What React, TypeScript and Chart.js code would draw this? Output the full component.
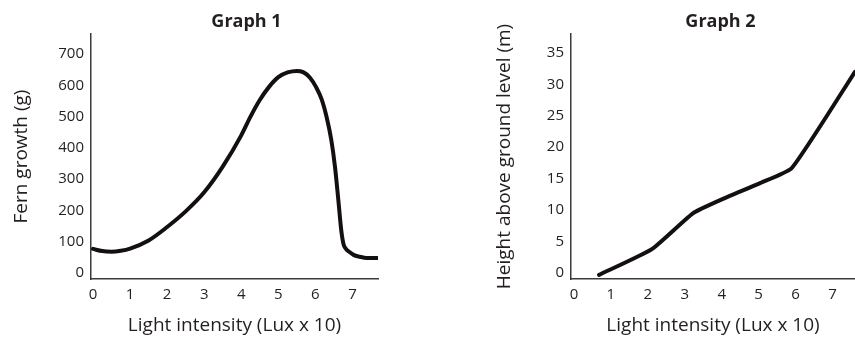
import React, { useEffect, useRef } from "react";
import { Chart, registerables } from "chart.js";

Chart.register(...registerables);

// Graph 1: fern growth vs light intensity
const g1X = [0, 0.25, 0.5, 0.75, 1, 1.5, 2, 2.5, 3, 3.5, 4, 4.25, 4.5, 4.75, 5, 5.25, 5.5, 5.67, 5.85, 6.02, 6.17, 6.3, 6.43, 6.53, 6.62, 6.7, 6.76, 6.82, 6.92, 7.03, 7.2, 7.38, 7.69];
const g1Y = [77, 70, 68, 71, 78, 104, 147, 197, 258, 340, 440, 500, 553, 595, 626, 641, 646, 642, 625, 594, 555, 500, 425, 339, 233, 135, 92, 78, 67, 58, 52, 48, 48];
const g1YTicks = [0, 100, 200, 300, 400, 500, 600, 700];
const g1XTicks = [0, 1, 2, 3, 4, 5, 6, 7];

// Graph 2: height above ground vs light intensity
const g2X = [0.68, 2.11, 3.22, 4.04, 5.04, 5.9, 7.61];
const g2Y = [-0.3, 3.8, 9.5, 11.8, 14.3, 16.7, 32];
const g2YTicks = [0, 5, 10, 15, 20, 25, 30, 35];
const g2XTicks = [0, 1, 2, 3, 4, 5, 6, 7];

const FONT = "'Open Sans', 'Noto Sans', sans-serif";
const AXIS_COLOR = "#3a3a3a";
const TEXT_COLOR = "#231f20";

const titlePlugin = {
  id: "sketchTitle",
  afterDraw(chart: any, _args: any, opts: any) {
    const ctx = chart.ctx;
    ctx.save();
    ctx.font = `bold 18px ${FONT}`;
    ctx.fillStyle = TEXT_COLOR;
    ctx.textAlign = "center";
    ctx.textBaseline = "alphabetic";
    ctx.fillText(opts.text, opts.x, opts.y);
    ctx.restore();
  },
};

type Cfg = {
  xs: number[];
  ys: number[];
  xTicks: number[];
  yTicks: number[];
  xMin: number;
  xMax: number;
  yMin: number;
  yMax: number;
  title: string;
  titleX: number;
  yTitle: string;
  padLeft: number;
  padRight: number;
  yWidth: number;
  smooth: boolean;
};

function makeConfig(c: Cfg): any {
  return {
    type: "line",
    data: {
      datasets: [
        {
          data: c.xs.map((x, i) => ({ x, y: c.ys[i] })),
          borderColor: "#141012",
          borderWidth: 4,
          pointRadius: 0,
          fill: false,
          tension: c.smooth ? 0 : 0.15,
          cubicInterpolationMode: c.smooth ? "monotone" : "default",
          borderCapStyle: "round",
          borderJoinStyle: "round",
        },
      ],
    },
    options: {
      responsive: false,
      animation: false,
      events: [],
      layout: { padding: { left: c.padLeft, right: c.padRight, top: 34, bottom: 0 } },
      plugins: {
        legend: { display: false },
        tooltip: { enabled: false },
        title: { display: false },
        sketchTitle: { text: c.title, x: c.titleX, y: 27 },
      },
      scales: {
        x: {
          type: "linear",
          min: c.xMin,
          max: c.xMax,
          grid: { display: false, drawTicks: false },
          border: { display: true, color: AXIS_COLOR, width: 1.5 },
          afterBuildTicks: (s: any) => {
            s.ticks = c.xTicks.map((v) => ({ value: v }));
          },
          afterFit: (s: any) => {
            s.height = 61;
          },
          ticks: {
            padding: 7,
            color: TEXT_COLOR,
            font: { family: FONT, size: 15 },
            maxRotation: 0,
            autoSkip: false,
          },
          title: {
            display: true,
            text: "Light intensity (Lux x 10)",
            color: TEXT_COLOR,
            font: { family: FONT, size: 19 },
            padding: { top: 0, bottom: 3 },
          },
        },
        y: {
          type: "linear",
          min: c.yMin,
          max: c.yMax,
          grid: { display: false, drawTicks: false },
          border: { display: true, color: AXIS_COLOR, width: 1.5 },
          afterBuildTicks: (s: any) => {
            s.ticks = c.yTicks.map((v) => ({ value: v }));
          },
          afterFit: (s: any) => {
            s.width = c.yWidth;
          },
          ticks: {
            padding: 7,
            color: TEXT_COLOR,
            font: { family: FONT, size: 15 },
            autoSkip: false,
          },
          title: {
            display: true,
            text: c.yTitle,
            color: TEXT_COLOR,
            font: { family: FONT, size: 19 },
            padding: { top: 10, bottom: 0 },
          },
        },
      },
    },
    plugins: [titlePlugin],
  };
}

function ChartCanvas({ cfg, left, width }: { cfg: Cfg; left: number; width: number }) {
  const ref = useRef<HTMLCanvasElement | null>(null);
  useEffect(() => {
    if (!ref.current) return;
    const chart = new Chart(ref.current, makeConfig(cfg));
    return () => chart.destroy();
  }, []);
  return (
    <canvas
      ref={ref}
      width={width}
      height={340}
      style={{ position: "absolute", left, top: 0, width, height: 340 }}
    />
  );
}

export default function App() {
  const cfg1: Cfg = {
    xs: g1X,
    ys: g1Y,
    xTicks: g1XTicks,
    yTicks: g1YTicks,
    xMin: -0.054,
    xMax: 7.69,
    yMin: -19.2,
    yMax: 764,
    title: "Graph 1",
    titleX: 246.5,
    yTitle: "Fern growth (g)",
    padLeft: 0,
    padRight: 52,
    yWidth: 91,
    smooth: true,
  };
  const cfg2: Cfg = {
    xs: g2X,
    ys: g2Y,
    xTicks: g2XTicks,
    yTicks: g2YTicks,
    xMin: -0.08,
    xMax: 7.61,
    yMin: -0.95,
    yMax: 38,
    title: "Graph 2",
    titleX: 290.5,
    yTitle: "Height above ground level (m)",
    padLeft: 53,
    padRight: 0,
    yWidth: 88,
    smooth: false,
  };
  return (
    <div style={{ position: "absolute", left: 0, top: 0, width: 855, height: 340, background: "#fff", overflow: "hidden" }}>
      <ChartCanvas cfg={cfg1} left={0} width={430} />
      <ChartCanvas cfg={cfg2} left={430} width={425} />
    </div>
  );
}
